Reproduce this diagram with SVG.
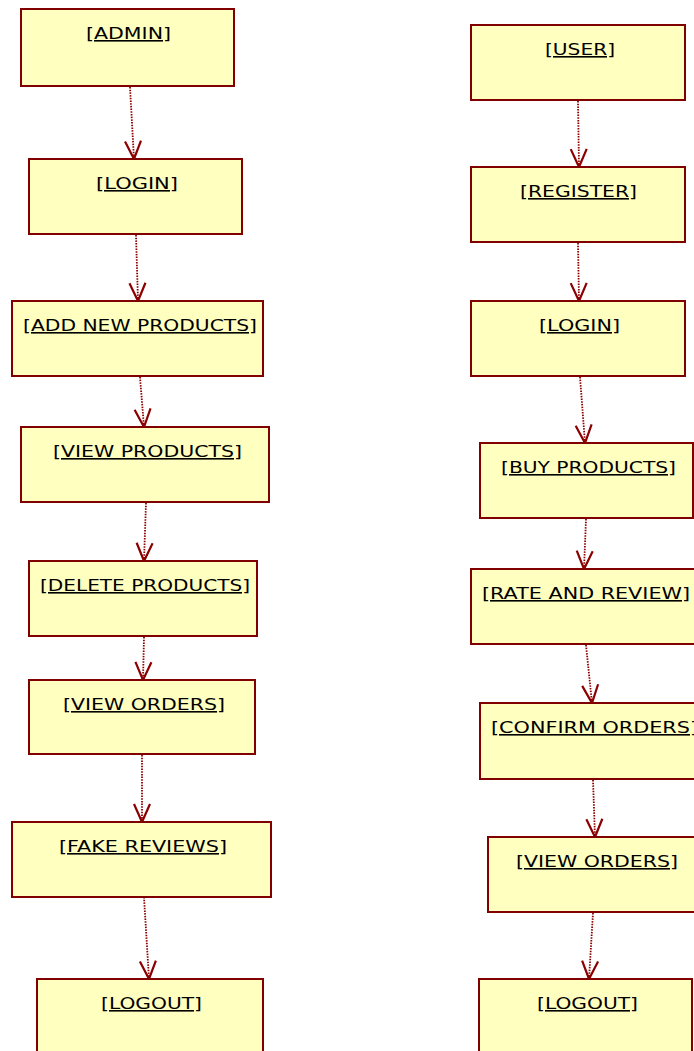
<svg xmlns="http://www.w3.org/2000/svg" width="694" height="1051" viewBox="0 0 694 1051">
<defs>
<style>
.box{fill:#FFFFBF;stroke:#800000;stroke-width:2}
.lbl{font-family:"DejaVu Sans","Liberation Sans",sans-serif;font-size:16px;fill:#000;text-decoration:underline}
.con{fill:none;stroke:#8B0000;stroke-width:1.8;stroke-dasharray:1.5 1.2}
</style>
<marker id="arr" markerUnits="userSpaceOnUse" markerWidth="24" markerHeight="24" refX="0" refY="0" viewBox="-20 -12 24 24" orient="auto" overflow="visible">
<path d="M-18,-8 L0,0 L-18,8" fill="none" stroke="#8B0000" stroke-width="2.2"/>
</marker>
</defs>
<rect width="694" height="1051" fill="#fff"/>
<g id="connectors">
<path class="con" d="M130,87 L134,159" marker-end="url(#arr)"/>
<path class="con" d="M136,235 L138,301" marker-end="url(#arr)"/>
<path class="con" d="M140,377 L144,427" marker-end="url(#arr)"/>
<path class="con" d="M146,503 L144,561" marker-end="url(#arr)"/>
<path class="con" d="M144,637 L143,680" marker-end="url(#arr)"/>
<path class="con" d="M142,755 L142,822" marker-end="url(#arr)"/>
<path class="con" d="M144,897 L149,979" marker-end="url(#arr)"/>
<path class="con" d="M578,101 L579,167" marker-end="url(#arr)"/>
<path class="con" d="M578,243 L579,301" marker-end="url(#arr)"/>
<path class="con" d="M580,377 L585,443" marker-end="url(#arr)"/>
<path class="con" d="M586,519 L584,569" marker-end="url(#arr)"/>
<path class="con" d="M586,645 L592,703" marker-end="url(#arr)"/>
<path class="con" d="M593,780 L595,837" marker-end="url(#arr)"/>
<path class="con" d="M593,913 L589,979" marker-end="url(#arr)"/>
</g>
<g id="admin"><rect class="box" x="21" y="9" width="213" height="77"/><text class="lbl" x="86" y="39" textLength="85" lengthAdjust="spacingAndGlyphs">[ADMIN]</text></g>
<g id="login-admin"><rect class="box" x="29" y="159" width="213" height="75"/><text class="lbl" x="96" y="189" textLength="82" lengthAdjust="spacingAndGlyphs">[LOGIN]</text></g>
<g id="add-new-products"><rect class="box" x="12" y="301" width="251" height="75"/><text class="lbl" x="23" y="331" textLength="234" lengthAdjust="spacingAndGlyphs">[ADD NEW PRODUCTS]</text></g>
<g id="view-products"><rect class="box" x="21" y="427" width="248" height="75"/><text class="lbl" x="53" y="457" textLength="189" lengthAdjust="spacingAndGlyphs">[VIEW PRODUCTS]</text></g>
<g id="delete-products"><rect class="box" x="29" y="561" width="228" height="75"/><text class="lbl" x="40" y="591" textLength="210" lengthAdjust="spacingAndGlyphs">[DELETE PRODUCTS]</text></g>
<g id="view-orders-admin"><rect class="box" x="29" y="680" width="226" height="74"/><text class="lbl" x="63" y="710" textLength="162" lengthAdjust="spacingAndGlyphs">[VIEW ORDERS]</text></g>
<g id="fake-reviews"><rect class="box" x="12" y="822" width="259" height="75"/><text class="lbl" x="59" y="852" textLength="168" lengthAdjust="spacingAndGlyphs">[FAKE REVIEWS]</text></g>
<g id="logout-admin"><rect class="box" x="37" y="979" width="226" height="90"/><text class="lbl" x="101" y="1009" textLength="101" lengthAdjust="spacingAndGlyphs">[LOGOUT]</text></g>
<g id="user"><rect class="box" x="471" y="25" width="214" height="75"/><text class="lbl" x="545" y="55" textLength="70" lengthAdjust="spacingAndGlyphs">[USER]</text></g>
<g id="register"><rect class="box" x="471" y="167" width="214" height="75"/><text class="lbl" x="520" y="197" textLength="117" lengthAdjust="spacingAndGlyphs">[REGISTER]</text></g>
<g id="login-user"><rect class="box" x="471" y="301" width="214" height="75"/><text class="lbl" x="539" y="331" textLength="81" lengthAdjust="spacingAndGlyphs">[LOGIN]</text></g>
<g id="buy-products"><rect class="box" x="480" y="443" width="213" height="75"/><text class="lbl" x="501" y="473" textLength="175" lengthAdjust="spacingAndGlyphs">[BUY PRODUCTS]</text></g>
<g id="rate-and-review"><rect class="box" x="471" y="569" width="240" height="75"/><text class="lbl" x="482" y="599" textLength="208" lengthAdjust="spacingAndGlyphs">[RATE AND REVIEW]</text></g>
<g id="confirm-orders"><rect class="box" x="480" y="703" width="240" height="76"/><text class="lbl" x="491" y="733" textLength="207" lengthAdjust="spacingAndGlyphs">[CONFIRM ORDERS]</text></g>
<g id="view-orders-user"><rect class="box" x="488" y="837" width="230" height="75"/><text class="lbl" x="516" y="867" textLength="162" lengthAdjust="spacingAndGlyphs">[VIEW ORDERS]</text></g>
<g id="logout-user"><rect class="box" x="479" y="979" width="213" height="90"/><text class="lbl" x="537" y="1009" textLength="101" lengthAdjust="spacingAndGlyphs">[LOGOUT]</text></g>
</svg>
